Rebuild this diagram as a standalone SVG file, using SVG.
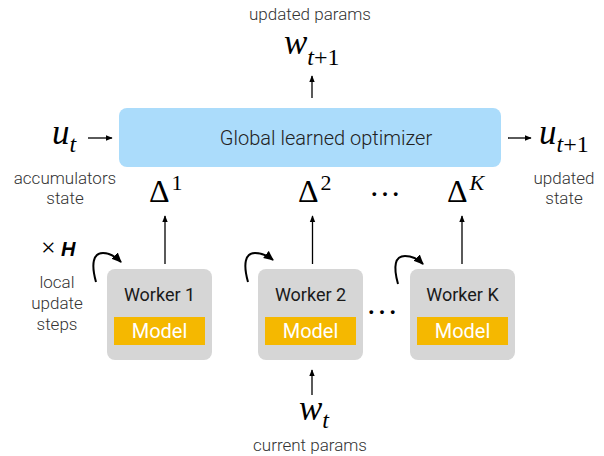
<svg xmlns="http://www.w3.org/2000/svg" width="604" height="456" viewBox="0 0 604 456">
<defs>
<marker id="ah" viewBox="0 0 10 10" refX="9" refY="5" markerWidth="7" markerHeight="7" markerUnits="userSpaceOnUse" orient="auto">
<path d="M0,1 L10,5 L0,9 z" fill="#000"/>
</marker>
<marker id="ahc" viewBox="0 0 10 10" refX="9" refY="5" markerWidth="10" markerHeight="10" markerUnits="userSpaceOnUse" orient="auto">
<path d="M0,0.5 L10,5 L0,9.5 z" fill="#000"/>
</marker>
<style>
.lbl{font-family:Roboto,"Liberation Sans",sans-serif;font-weight:300;font-size:17px;fill:#333;text-anchor:middle}
.opt{font-family:Roboto,"Liberation Sans",sans-serif;font-weight:300;font-size:20px;fill:#222;text-anchor:middle}
.wk{font-family:Roboto,"Liberation Sans",sans-serif;font-weight:400;font-size:18px;fill:#1a1a1a;text-anchor:middle}
.md{font-family:Roboto,"Liberation Sans",sans-serif;font-weight:400;font-size:20px;fill:#fff;text-anchor:middle}
.m{font-family:"Liberation Serif",serif;font-style:italic;font-size:35px;fill:#000}
.s{font-size:24px}
.up{font-style:normal}
.dl{font-family:"Liberation Serif",serif;font-size:32px;fill:#000}
.box{fill:#d6d6d6}
.mod{fill:#f5b800}
.ln{stroke:#000;stroke-width:1.3;fill:none}
.cv{stroke:#000;stroke-width:2;fill:none}
</style>
</defs>

<g id="optimizer">
<rect x="119" y="108" width="382" height="59" rx="8" fill="#abdcfb"/>
<text class="opt" x="326" y="145">Global learned optimizer</text>
</g>

<g id="top-label">
<text class="lbl" x="310" y="20">updated params</text>
<text class="m" x="284" y="54">w<tspan class="s" dy="11">t</tspan><tspan class="s up">+1</tspan></text>
</g>

<g id="u-in">
<text class="m" x="52" y="144">u<tspan class="s" dy="8">t</tspan></text>
<text class="lbl" x="65" y="184">accumulators</text>
<text class="lbl" x="65" y="204">state</text>
</g>

<g id="u-out">
<text class="m" x="539" y="144">u<tspan class="s" dy="8">t</tspan><tspan class="s up">+1</tspan></text>
<text class="lbl" x="564" y="184">updated</text>
<text class="lbl" x="564" y="204">state</text>
</g>

<g id="deltas">
<text class="dl" x="149" y="202">Δ<tspan font-size="22px" dy="-12" dx="2">1</tspan></text>
<text class="dl" x="298" y="202">Δ<tspan font-size="22px" dy="-12" dx="2">2</tspan></text>
<text class="dl" x="447" y="202">Δ<tspan font-size="22px" font-style="italic" dy="-12" dx="2">K</tspan></text>
<text class="dl" x="385" y="196" font-size="26px" text-anchor="middle">…</text>
</g>

<g id="worker1">
<rect class="box" x="107" y="269" width="105" height="91" rx="8"/>
<text class="wk" x="159.5" y="301">Worker 1</text>
<rect class="mod" x="114" y="317" width="91" height="28"/>
<text class="md" x="159.5" y="338">Model</text>
</g>
<g id="worker2">
<rect class="box" x="258" y="269" width="105" height="91" rx="8"/>
<text class="wk" x="310.5" y="301">Worker 2</text>
<rect class="mod" x="265" y="317" width="91" height="28"/>
<text class="md" x="310.5" y="338">Model</text>
</g>
<g id="workerK">
<rect class="box" x="410" y="269" width="105" height="91" rx="8"/>
<text class="wk" x="462.5" y="301">Worker K</text>
<rect class="mod" x="417" y="317" width="91" height="28"/>
<text class="md" x="462.5" y="338">Model</text>
</g>
<text class="dl" x="382" y="314" font-size="26px" text-anchor="middle">…</text>

<g id="local-steps">
<text x="41" y="256" font-family="'Liberation Serif',serif" font-size="26px" fill="#000">×</text>
<text x="61" y="256" font-family="'Liberation Sans',sans-serif" font-weight="bold" font-style="italic" font-size="20px" fill="#000">H</text>
<text class="lbl" x="57" y="288">local</text>
<text class="lbl" x="57" y="309">update</text>
<text class="lbl" x="57" y="330">steps</text>
</g>

<g id="bottom-label">
<text class="m" x="299" y="420">w<tspan class="s" dy="8">t</tspan></text>
<text class="lbl" x="310" y="451">current params</text>
</g>

<g id="connectors">
<line class="ln" x1="312" y1="98" x2="312" y2="76" marker-end="url(#ah)"/>
<line class="ln" x1="88" y1="138" x2="112" y2="138" marker-end="url(#ah)"/>
<line class="ln" x1="508" y1="138" x2="531" y2="138" marker-end="url(#ah)"/>
<line class="ln" x1="165" y1="264" x2="165" y2="216" marker-end="url(#ah)"/>
<line class="ln" x1="312.5" y1="264" x2="312.5" y2="216" marker-end="url(#ah)"/>
<line class="ln" x1="462" y1="264" x2="462" y2="216" marker-end="url(#ah)"/>
<line class="ln" x1="312" y1="395" x2="312" y2="370" marker-end="url(#ah)"/>
<path class="cv" d="M96,282 C91,264 93,253 103,253 C110,253 116,257 121,262" marker-end="url(#ahc)"/>
<path class="cv" d="M248,282 C243,264 245,253 255,253 C262,253 268,256 273,260" marker-end="url(#ahc)"/>
<path class="cv" d="M398,284 C393,266 395,256 405,256 C412,256 418,259 423,264" marker-end="url(#ahc)"/>
</g>
</svg>
